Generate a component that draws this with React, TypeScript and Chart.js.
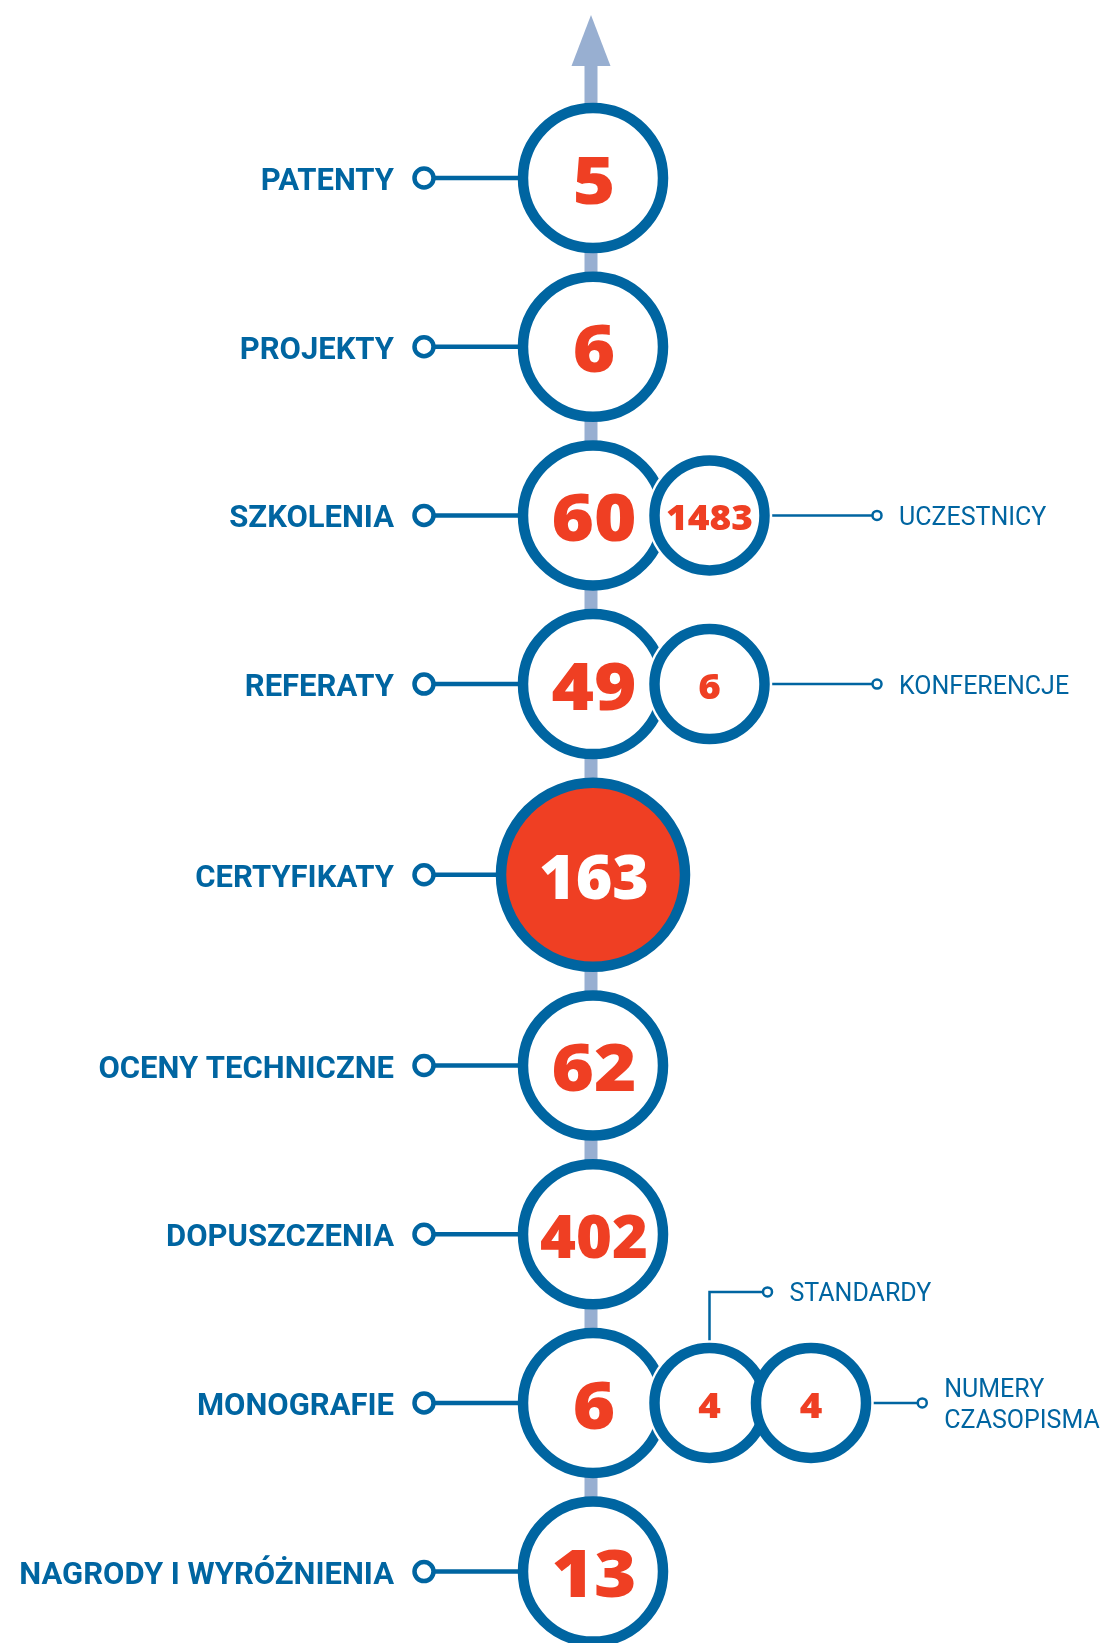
import React, { useEffect, useRef } from 'react';
import { Chart, registerables } from 'chart.js';

Chart.register(...registerables);

// ---------- DATA ----------
const categories = [
  'PATENTY',
  'PROJEKTY',
  'SZKOLENIA',
  'REFERATY',
  'CERTYFIKATY',
  'OCENY TECHNICZNE',
  'DOPUSZCZENIA',
  'MONOGRAFIE',
  'NAGRODY I WYRÓŻNIENIA',
];
const values = [5, 6, 60, 49, 163, 62, 402, 6, 13];
const highlightedCategory = 'CERTYFIKATY';

const detailCategories = ['SZKOLENIA', 'REFERATY', 'MONOGRAFIE', 'MONOGRAFIE'];
const detailValues = [1483, 6, 4, 4];
const detailLabels = ['UCZESTNICY', 'KONFERENCJE', 'STANDARDY', 'NUMERY\nCZASOPISMA'];

// ---------- LAYOUT / STYLE ----------
const W = 1105;
const H = 1643;
const AXIS_X = 593;
const FIRST_Y = 178;
const BW = 10.5;
const R_MAIN = 70;
const R_BIG = 92;
const R_SUB = 55;
const GAP = 18.2;
const OVERLAP = 19;

const BLUE = '#0065a1';
const RED = '#ef3f23';
const LIGHT = '#98afd1';
const WHITE = '#ffffff';

const NUM_FONT = "'Open Sans', 'Lato', sans-serif";
const LABEL_FONT = "Roboto, 'Noto Sans', sans-serif";

const outer = (r: number) => r + BW / 2;
const mainR = (i: number) => (categories[i] === highlightedCategory ? R_BIG : R_MAIN);

function rowPositions(): number[] {
  const ys: number[] = [];
  categories.forEach((_, i) => {
    if (i === 0) ys.push(FIRST_Y);
    else ys.push(ys[i - 1] + outer(mainR(i - 1)) + outer(mainR(i)) + GAP);
  });
  return ys;
}

function subPositions(rowY: number[]) {
  const counter: Record<string, number> = {};
  return detailCategories.map((cat, k) => {
    const row = categories.indexOf(cat);
    const j = counter[cat] || 0;
    counter[cat] = j + 1;
    const first = AXIS_X + outer(mainR(row)) + outer(R_SUB) - OVERLAP;
    const x = first + j * (2 * outer(R_SUB) - OVERLAP);
    const hasNext = detailCategories.slice(k + 1).includes(cat);
    return { x, y: rowY[row], r: R_SUB, row, hasNext };
  });
}

// draws a number centred at (x, y), fitted into maxW and slightly widened
function drawNumber(
  ctx: CanvasRenderingContext2D,
  text: string,
  x: number,
  y: number,
  size: number,
  maxW: number,
  color: string
) {
  ctx.font = `800 ${size}px ${NUM_FONT}`;
  let w = ctx.measureText(text).width;
  if (w > maxW) {
    size = Math.floor((size * maxW) / w);
    ctx.font = `800 ${size}px ${NUM_FONT}`;
    w = ctx.measureText(text).width;
  }
  const stretch = Math.max(1, Math.min(1.1, maxW / w));
  ctx.save();
  ctx.translate(x, y + 0.36 * size + 2);
  ctx.scale(stretch, 1);
  ctx.fillStyle = color;
  ctx.textAlign = 'center';
  ctx.textBaseline = 'alphabetic';
  ctx.fillText(text, 0, 0);
  ctx.restore();
}

export default function App() {
  const canvasRef = useRef<HTMLCanvasElement | null>(null);

  useEffect(() => {
    document.body.style.margin = '0';
    document.body.style.overflow = 'hidden';
    const canvas = canvasRef.current;
    if (!canvas) return;

    const rowY = rowPositions();
    const subs = subPositions(rowY);

    const mainData = categories.map((_, i) => ({ x: AXIS_X, y: rowY[i], r: mainR(i) }));
    const subData = subs.map((s) => ({ x: s.x, y: s.y, r: s.r }));

    const plugin = {
      id: 'infographic',
      beforeDatasetsDraw(chart: any) {
        const ctx: CanvasRenderingContext2D = chart.ctx;
        const xs = chart.scales.x;
        const ys = chart.scales.y;
        const ax = xs.getPixelForValue(AXIS_X) - 2;
        ctx.save();
        // shaft
        ctx.fillStyle = LIGHT;
        ctx.fillRect(ax - 6.5, 64, 13, H - 64);
        // arrow head
        ctx.beginPath();
        ctx.moveTo(ax, 15);
        ctx.lineTo(ax + 19.5, 66);
        ctx.lineTo(ax - 19.5, 66);
        ctx.closePath();
        ctx.fill();

        // left connectors and labels
        categories.forEach((cat, i) => {
          const y = ys.getPixelForValue(rowY[i]);
          const cx = xs.getPixelForValue(AXIS_X);
          const left = cx - outer(mainR(i));
          const dotX = 424;
          ctx.strokeStyle = BLUE;
          ctx.lineWidth = 4.5;
          ctx.beginPath();
          ctx.moveTo(dotX + 10, y);
          ctx.lineTo(left + 2, y);
          ctx.stroke();
          ctx.beginPath();
          ctx.arc(dotX, y, 9.5, 0, Math.PI * 2);
          ctx.fillStyle = WHITE;
          ctx.fill();
          ctx.stroke();
          ctx.fillStyle = BLUE;
          ctx.font = `bold 31px ${LABEL_FONT}`;
          ctx.textAlign = 'right';
          ctx.textBaseline = 'alphabetic';
          ctx.fillText(cat, 394, y + 12);
        });
        ctx.restore();
      },
      beforeDatasetDraw(chart: any, args: any) {
        if (args.index !== 0) return;
        const ctx: CanvasRenderingContext2D = chart.ctx;
        const xs = chart.scales.x;
        const ys = chart.scales.y;
        ctx.save();
        subs.forEach((s, k) => {
          const x = xs.getPixelForValue(s.x);
          const y = ys.getPixelForValue(s.y);
          const o = outer(s.r);
          ctx.strokeStyle = BLUE;
          ctx.lineWidth = 2.5;
          let ex: number;
          let ey: number;
          if (s.hasNext) {
            ey = y - 111;
            ex = x + 58;
            ctx.beginPath();
            ctx.moveTo(x, y - o + 2);
            ctx.lineTo(x, ey);
            ctx.lineTo(ex - 4.5, ey);
            ctx.stroke();
          } else {
            ey = y;
            ex = Math.max(877, x + o + 51);
            ctx.beginPath();
            ctx.moveTo(x + o - 2, y);
            ctx.lineTo(ex - 4.5, y);
            ctx.stroke();
          }
          ctx.beginPath();
          ctx.arc(ex, ey, 4.5, 0, Math.PI * 2);
          ctx.fillStyle = WHITE;
          ctx.fill();
          ctx.stroke();
          // label
          ctx.fillStyle = BLUE;
          ctx.font = `400 25px ${LABEL_FONT}`;
          ctx.textAlign = 'left';
          ctx.textBaseline = 'alphabetic';
          const lines = detailLabels[k].split('\n');
          const lh = 31;
          lines.forEach((ln, li) => {
            const cy = ey + (li - (lines.length - 1) / 2) * lh;
            ctx.fillText(ln, ex + 22, cy + 9.5);
          });
          // white halo to separate from neighbour circles
          ctx.beginPath();
          ctx.arc(x, y, o + 2.5, 0, Math.PI * 2);
          ctx.fillStyle = WHITE;
          ctx.fill();
        });
        ctx.restore();
      },
      afterDatasetsDraw(chart: any) {
        const ctx: CanvasRenderingContext2D = chart.ctx;
        const xs = chart.scales.x;
        const ys = chart.scales.y;
        values.forEach((v, i) => {
          const x = xs.getPixelForValue(AXIS_X);
          const y = ys.getPixelForValue(rowY[i]);
          const big = categories[i] === highlightedCategory;
          drawNumber(ctx, String(v), x + 1, y, 66, big ? 110 : 108, big ? WHITE : RED);
        });
        detailValues.forEach((v, k) => {
          const x = xs.getPixelForValue(subs[k].x);
          const y = ys.getPixelForValue(subs[k].y);
          drawNumber(ctx, String(v), x, y, 35, 87, RED);
        });
      },
    };

    const chart = new Chart(canvas, {
      type: 'bubble',
      data: {
        datasets: [
          {
            label: 'detail',
            data: subData,
            backgroundColor: WHITE,
            borderColor: BLUE,
            borderWidth: BW,
            order: 0,
            clip: false,
          } as any,
          {
            label: 'main',
            data: mainData,
            backgroundColor: categories.map((c) => (c === highlightedCategory ? RED : WHITE)),
            borderColor: BLUE,
            borderWidth: BW,
            order: 1,
            clip: false,
          } as any,
        ],
      },
      options: {
        responsive: false,
        animation: false,
        devicePixelRatio: 1,
        events: [],
        layout: { padding: 0, autoPadding: false },
        plugins: { legend: { display: false }, tooltip: { enabled: false } },
        scales: {
          x: { type: 'linear', min: 0, max: W, display: false },
          y: { type: 'linear', min: 0, max: H, reverse: true, display: false },
        },
      } as any,
      plugins: [plugin],
    });

    return () => chart.destroy();
  }, []);

  return (
    <div style={{ width: W, height: H, background: WHITE }}>
      <canvas ref={canvasRef} width={W} height={H} style={{ display: 'block', width: W, height: H }} />
    </div>
  );
}
